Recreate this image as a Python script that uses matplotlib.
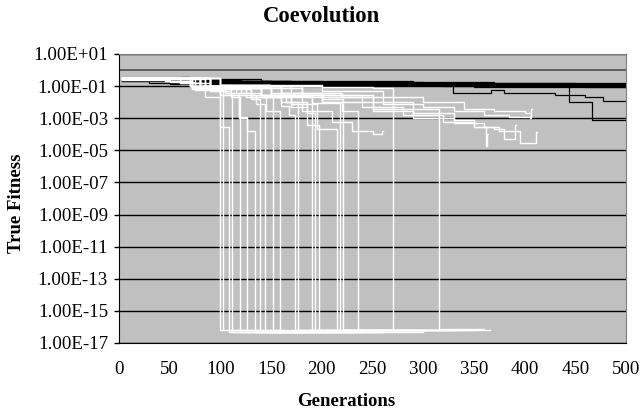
import numpy as np
import matplotlib
matplotlib.use('Agg')
import matplotlib.pyplot as plt
from matplotlib.ticker import FixedLocator, FuncFormatter

plt.rcParams['font.family'] = ['Liberation Serif', 'DejaVu Serif']

# y ticks (every 2 decades)
y_ticks = [1e1, 1e-1, 1e-3, 1e-5, 1e-7, 1e-9, 1e-11, 1e-13, 1e-15, 1e-17]
x_ticks = [0, 50, 100, 150, 200, 250, 300, 350, 400, 450, 500]

# reference line at 1.0
ref_level = 1.0

# black runs: (generation, true fitness) breakpoints, step-wise
black_runs = [
    [(3, 0.28), (40, 0.30), (90, 0.20), (150, 0.17), (230, 0.15), (320, 0.14), (400, 0.13), (460, 0.12), (500, 0.12)],
    [(3, 0.22), (30, 0.15), (80, 0.18), (160, 0.14), (260, 0.12), (360, 0.11), (440, 0.10), (500, 0.10)],
    [(3, 0.30), (60, 0.25), (120, 0.20), (200, 0.18), (300, 0.16), (380, 0.15), (500, 0.15)],
    [(3, 0.25), (50, 0.13), (100, 0.16), (180, 0.13), (280, 0.12), (350, 0.09), (420, 0.10), (500, 0.09)],
    [(3, 0.35), (70, 0.28), (140, 0.22), (210, 0.20), (290, 0.17), (370, 0.16), (450, 0.14), (500, 0.14)],
    [(3, 0.20), (40, 0.22), (110, 0.15), (190, 0.12), (270, 0.13), (340, 0.11), (420, 0.09), (500, 0.08)],
    [(3, 0.30), (55, 0.20), (130, 0.18), (220, 0.16), (310, 0.12), (390, 0.13), (470, 0.11), (500, 0.11)],
    [(3, 0.27), (80, 0.22), (170, 0.17), (250, 0.14), (330, 0.14), (410, 0.12), (500, 0.12)],
    [(3, 0.32), (45, 0.25), (100, 0.19), (200, 0.15), (290, 0.13), (400, 0.12), (480, 0.10), (500, 0.10)],
    [(3, 0.24), (65, 0.16), (150, 0.14), (240, 0.13), (320, 0.10), (380, 0.11), (460, 0.09), (500, 0.09)],
    [(3, 0.28), (60, 0.20), (150, 0.15), (250, 0.13), (329, 0.038), (367, 0.06), (380, 0.035),
     (430, 0.027), (460, 0.02), (477, 0.012), (500, 0.012)],
    [(3, 0.30), (80, 0.22), (170, 0.16), (260, 0.13), (350, 0.12), (430, 0.10), (444, 0.011),
     (466, 0.0008), (500, 0.0008)],
]

# white runs that reach the floor: path before the drop, drop generation, last generation
perfect_paths = [
    [(3, 0.32), (45, 0.20), (72, 0.07), (95, 0.05)],
    [(3, 0.25), (50, 0.18), (75, 0.06)],
    [(3, 0.30), (60, 0.15), (85, 0.02), (100, 0.0003)],
    [(3, 0.30), (72, 0.09), (100, 0.03)],
    [(3, 0.35), (60, 0.16), (90, 0.05), (110, 0.02)],
    [(3, 0.30), (72, 0.08), (105, 0.04), (118, 0.0012)],
    [(3, 0.28), (70, 0.10), (100, 0.03), (118, 0.001), (126, 0.00015)],
    [(3, 0.30), (80, 0.10), (115, 0.04), (130, 0.015)],
    [(3, 0.30), (75, 0.09), (110, 0.03), (135, 0.008)],
    [(3, 0.26), (70, 0.10), (120, 0.04), (140, 0.025)],
    [(3, 0.30), (80, 0.08), (125, 0.02), (145, 0.003)],
    [(3, 0.30), (90, 0.07), (130, 0.02), (160, 0.006), (168, 0.0015)],
    [(3, 0.27), (80, 0.10), (140, 0.03), (165, 0.01)],
    [(3, 0.30), (90, 0.09), (150, 0.04), (180, 0.03)],
    [(3, 0.30), (85, 0.08), (140, 0.02), (170, 0.005), (185, 0.002)],
    [(3, 0.30), (70, 0.10), (130, 0.03), (160, 0.01), (185, 0.0004)],
    [(3, 0.30), (80, 0.09), (140, 0.03), (170, 0.008), (195, 0.0002)],
    [(3, 0.30), (90, 0.08), (150, 0.025), (190, 0.009)],
    [(3, 0.28), (85, 0.10), (160, 0.04), (200, 0.015)],
    [(3, 0.30), (90, 0.10), (160, 0.03), (200, 0.01), (220, 0.003)],
    [(3, 0.30), (100, 0.12), (200, 0.09), (250, 0.08)],
    [(3, 0.30), (100, 0.08), (180, 0.03), (250, 0.01), (290, 0.0035)],
]
drop_gens = [100, 103, 108, 111, 119, 126, 134, 139, 144, 152, 159, 174, 177, 190, 193, 197,
             215, 218, 221, 236, 270, 316]
end_gens = [160, 200, 150, 230, 260, 180, 250, 300, 200, 240, 280, 320, 260, 290, 330, 270,
            300, 340, 366, 310, 350, 360]
floor_vals = [6.5e-17, 6.5e-17, 5e-17, 5e-17, 5e-17, 5e-17, 5e-17, 5e-17, 5e-17, 5e-17,
              5e-17, 6.5e-17, 6.5e-17, 6.5e-17, 6.5e-17, 6.5e-17, 6.5e-17, 6.5e-17,
              6.5e-17, 6.5e-17, 6.5e-17, 7e-17]

# white runs that never reach the floor
white_runs = [
    [(3, 0.30), (80, 0.08), (140, 0.02), (180, 0.003), (210, 0.0006), (230, 0.00016),
     (250, 0.0001), (259, 0.00016), (260, 0.00016)],
    [(3, 0.30), (90, 0.10), (160, 0.04), (220, 0.02), (260, 0.008), (300, 0.005), (330, 0.003),
     (360, 0.0015), (385, 0.0012), (405, 0.001), (406, 0.0035), (407, 0.0035)],
    [(3, 0.30), (80, 0.10), (150, 0.03), (200, 0.01), (250, 0.003), (290, 0.001), (330, 0.0005),
     (360, 0.0003), (375, 0.00015), (395, 0.00003), (411, 0.00013), (412, 0.00013)],
    [(3, 0.30), (90, 0.10), (170, 0.03), (240, 0.005), (280, 0.0015), (320, 0.0006), (350, 0.0003),
     (370, 0.0002), (380, 0.00005), (391, 0.0004), (392, 0.0004)],
    [(3, 0.30), (100, 0.10), (180, 0.02), (250, 0.004), (290, 0.002), (330, 0.0008), (350, 0.0003),
     (362, 0.00002), (363, 0.0001), (364, 0.0001)],
    [(3, 0.30), (100, 0.10), (200, 0.05), (260, 0.02), (300, 0.01), (340, 0.004), (370, 0.003),
     (400, 0.002), (405, 0.002)],
]

fig = plt.figure(figsize=(6.44, 4.13), dpi=100)
ax = fig.add_axes([119 / 644, 1 - 343 / 413, 507 / 644, 289 / 413])
ax.set_facecolor('#c0c0c0')

for run in black_runs:
    g, v = zip(*run)
    ax.plot(g, v, drawstyle='steps-post', color='black', lw=0.9)
for path, d, e, f in zip(perfect_paths, drop_gens, end_gens, floor_vals):
    pts = path + [(d, f), (e, f)]
    g, v = zip(*pts)
    ax.plot(g, v, drawstyle='steps-post', color='white', lw=1.0)
for run in white_runs:
    g, v = zip(*run)
    ax.plot(g, v, drawstyle='steps-post', color='white', lw=1.0)
ax.plot([0, 500], [ref_level, ref_level], color='#505050', lw=1.2)

ax.set_yscale('log')
ax.set_ylim(1e-17, 1e1)
ax.set_xlim(0, 500)
ax.yaxis.set_major_locator(FixedLocator(y_ticks))
ax.yaxis.set_minor_locator(FixedLocator([]))
ax.yaxis.set_major_formatter(FuncFormatter(lambda v, p: f'{v:.2E}'))
ax.set_xticks(x_ticks)
ax.grid(axis='y', color='black', lw=1.0)
ax.set_axisbelow(True)

ax.tick_params(axis='y', direction='out', length=3.6, width=1, pad=4.3, labelsize=13.6)
ax.tick_params(axis='x', length=0, pad=13, labelsize=13.6)
for s in ['top', 'right']:
    ax.spines[s].set_color('#808080')
for s in ['left', 'bottom']:
    ax.spines[s].set_color('black')

fig.text(322 / 644, 1 - 16 / 413, 'Coevolution', ha='center', va='center',
         fontsize=16.3, fontweight='bold')
fig.text(346 / 644, 1 - 402 / 413, 'Generations', ha='center', va='center',
         fontsize=13.5, fontweight='bold')
fig.text(17 / 644, 1 - 203 / 413, 'True Fitness', ha='center', va='center',
         rotation=90, fontsize=13.5, fontweight='bold')

fig.savefig('out.png', dpi=100)
